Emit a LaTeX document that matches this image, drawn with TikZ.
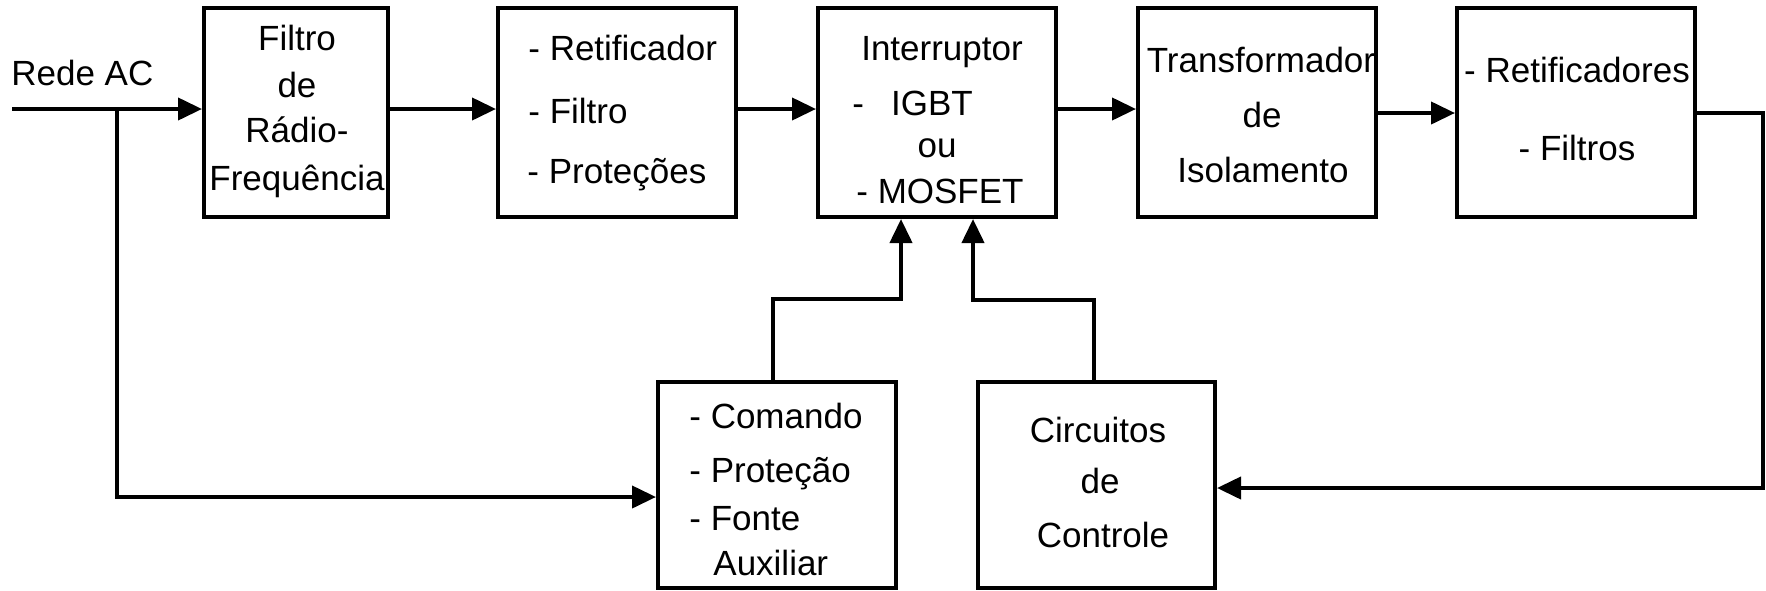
\documentclass[tikz,border=0pt]{standalone}
\usepackage{fontspec}
\setmainfont{Liberation Sans}
\usetikzlibrary{arrows.meta,fit}
\tikzset{
  blk/.style={draw, line width=2pt, inner sep=0pt},
  txt/.style={inner sep=0pt, anchor=base, font=\fontsize{17.5}{21}\selectfont},
  ltxt/.style={txt, anchor=base west},
  wire/.style={line width=2pt},
  arr/.style={wire, -{Triangle[length=12pt,width=11pt]}}
}
\begin{document}
\begin{tikzpicture}[x=0.5pt,y=-0.5pt]
\useasboundingbox (0,0) rectangle (1766,590);
% boxes
\node[blk, fit={(204,8)(388,217)}] (b1) {};
\node[blk, fit={(498,8)(736,217)}] (b2) {};
\node[blk, fit={(818,8)(1056,217)}] (b3) {};
\node[blk, fit={(1138,8)(1376,217)}] (b4) {};
\node[blk, fit={(1457,8)(1695,217)}] (b5) {};
\node[blk, fit={(658,382)(896,588)}] (cmd) {};
\node[blk, fit={(978,382)(1215,588)}] (ctl) {};
% texts
\node[ltxt] (tin) at (11,85) {Rede AC};
\node[txt] (t1a) at (297,50) {Filtro};
\node[txt] (t1b) at (297,97) {de};
\node[txt] (t1c) at (297,142) {Rádio-};
\node[txt] (t1d) at (297,190) {Frequência};
\node[ltxt] (t2a) at (528,60) {- Retificador};
\node[ltxt] (t2b) at (528,123) {- Filtro};
\node[ltxt] (t2c) at (527,183) {- Proteções};
\node[txt] (t3a) at (942,60) {Interruptor};
\node[ltxt] (t3b) at (852,115) {-};
\node[txt] (t3c) at (932,115) {IGBT};
\node[txt] (t3d) at (937,157) {ou};
\node[txt] (t3e) at (940,203) {- MOSFET};
\node[txt] (t4a) at (1261,72) {Transformador};
\node[txt] (t4b) at (1262,127) {de};
\node[txt] (t4c) at (1263,182) {Isolamento};
\node[txt] (t5a) at (1577,82) {- Retificadores};
\node[txt] (t5b) at (1577,160) {- Filtros};
\node[ltxt] (tca) at (689,428) {- Comando};
\node[ltxt] (tcb) at (689,482) {- Proteção};
\node[ltxt] (tcc) at (689,530) {- Fonte};
\node[ltxt] (tcd) at (713,575) {Auxiliar};
\node[txt] (tda) at (1098,442) {Circuitos};
\node[txt] (tdb) at (1100,493) {de};
\node[txt] (tdc) at (1103,547) {Controle};
% coordinates
\coordinate (in) at (12,109);
\coordinate (br) at (117,109);
\coordinate (r1) at (0,109);
\coordinate (r2) at (0,113);
\coordinate (ycmd) at (0,497);
\coordinate (yctl) at (0,488);
\coordinate (outc) at (1763,113);
\coordinate (p1) at (773,299);
\coordinate (p2) at (901,299);
\coordinate (q1) at (1094,300);
\coordinate (q2) at (973,300);
% connectors
\draw[arr] (in) -- (b1.west |- in);
\draw[arr] (br) |- (cmd.west |- ycmd);
\draw[arr] (b1.east |- r1) -- (b2.west |- r1);
\draw[arr] (b2.east |- r1) -- (b3.west |- r1);
\draw[arr] (b3.east |- r1) -- (b4.west |- r1);
\draw[arr] (b4.east |- r2) -- (b5.west |- r2);
\draw[arr] (b5.east |- r2) -- (outc) |- (ctl.east |- yctl);
\draw[arr] (cmd.north -| p1) -- (p1) -- (p2) -- (b3.south -| p2);
\draw[arr] (ctl.north -| q1) -- (q1) -- (q2) -- (b3.south -| q2);
\end{tikzpicture}
\end{document}
